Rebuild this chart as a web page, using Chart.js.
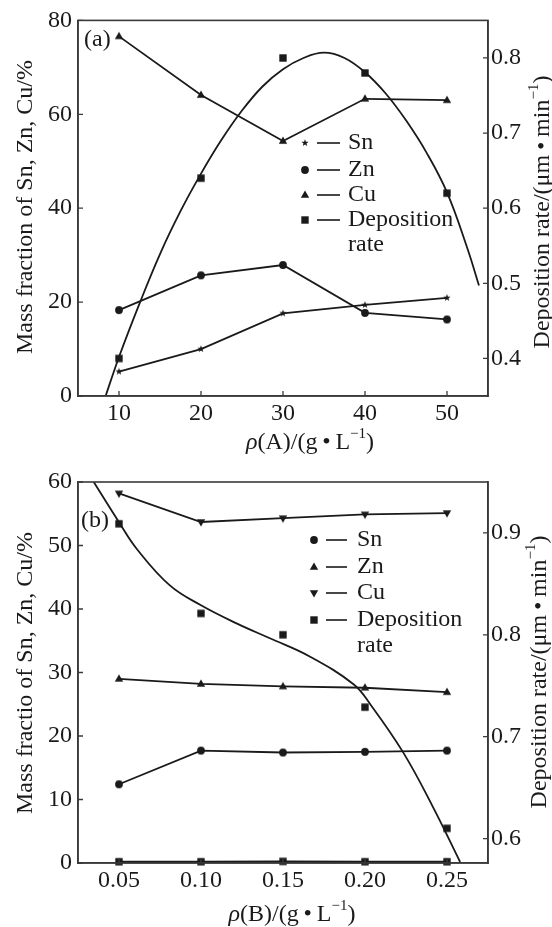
<!DOCTYPE html>
<html>
<head>
<meta charset="utf-8">
<script src="https://cdn.jsdelivr.net/npm/chart.js@4.4.1/dist/chart.umd.min.js"></script>
<style>
  html, body { margin: 0; padding: 0; background: #fff; }
  body { width: 552px; height: 927px; position: relative; overflow: hidden; font-family: 'Liberation Serif', serif; }
  .panel { position: absolute; left: 0; width: 552px; }
  #panel-a { top: 0; height: 460px; }
  #panel-b { top: 460px; height: 467px; }
</style>
</head>
<body>
<div class="panel" id="panel-a"><canvas id="chart-a" width="552" height="460"></canvas></div>
<div class="panel" id="panel-b"><canvas id="chart-b" width="552" height="467"></canvas></div>
<script>
// ---- panel (a): composition vs rho(A) ----
const X_A = [10, 20, 30, 40, 50];
const SN_A = [5.2, 10.0, 17.6, 19.4, 20.9];
const ZN_A = [18.3, 25.7, 27.9, 17.7, 16.3];
const CU_A = [76.6, 64.1, 54.3, 63.3, 63.0];
const RATE_A = [0.40, 0.64, 0.80, 0.78, 0.62];
// fitted deposition-rate curve
const FIT_A_X = [8.4, 10, 12.5, 15, 17.5, 20, 22.5, 25, 27.5, 30, 32.5, 35, 37.5, 40, 42.5, 45, 47.5, 50, 52.5, 53.9];
const FIT_A_Y = [0.351, 0.402, 0.473, 0.539, 0.596, 0.646, 0.691, 0.730, 0.762, 0.785, 0.800, 0.807, 0.800, 0.781, 0.753, 0.717, 0.674, 0.621, 0.546, 0.497];
const XTICKS_A = [10, 20, 30, 40, 50];
const YTICKS_A = [0, 20, 40, 60, 80];
const RTICKS_A = [0.4, 0.5, 0.6, 0.7, 0.8];
const LEGEND_A = [['star', 'Sn'], ['circle', 'Zn'], ['triUp', 'Cu'], ['square', 'Deposition', 'rate']];

// ---- panel (b): composition vs rho(B) ----
const X_B = [0.05, 0.10, 0.15, 0.20, 0.25];
const SN_B = [12.4, 17.7, 17.4, 17.5, 17.7];
const ZN_B = [29.0, 28.2, 27.8, 27.6, 26.9];
const CU_B = [58.2, 53.7, 54.3, 54.9, 55.1];
const RATE_B = [0.909, 0.821, 0.80, 0.729, 0.61];
const BASE_B = [0.2, 0.2, 0.25, 0.2, 0.2]; // the row of squares sitting on the zero line
const FIT_B_X = [0.0346, 0.05, 0.061, 0.081, 0.10, 0.122, 0.142, 0.166, 0.193, 0.203, 0.223, 0.241, 0.258];
const FIT_B_Y = [0.95, 0.9105, 0.884, 0.8485, 0.829, 0.811, 0.7966, 0.779, 0.7515, 0.7323, 0.6853, 0.6324, 0.577];
const XTICKS_B = [0.05, 0.10, 0.15, 0.20, 0.25];
const YTICKS_B = [0, 10, 20, 30, 40, 50, 60];
const RTICKS_B = [0.6, 0.7, 0.8, 0.9];
const LEGEND_B = [['circle', 'Sn'], ['triUp', 'Zn'], ['triDown', 'Cu'], ['square', 'Deposition', 'rate']];

const FONT = "'Liberation Serif', serif";
const INK = '#1a1a1a';
const FRAME = '#3a3a3a';
const THIN = '\u2009';

function markerPath(ctx, style, x, y) {
    ctx.beginPath();
    if (style == 'circle') {
        ctx.arc(x, y, 3.9, 0, Math.PI * 2);
    } else if (style == 'square') {
        ctx.rect(x - 3.7, y - 3.7, 7.4, 7.4);
    } else if (style == 'triUp') {
        ctx.moveTo(x, y - 4.6); ctx.lineTo(x + 4.2, y + 2.8); ctx.lineTo(x - 4.2, y + 2.8); ctx.closePath();
    } else if (style == 'triDown') {
        ctx.moveTo(x, y + 4.6); ctx.lineTo(x + 4.2, y - 2.8); ctx.lineTo(x - 4.2, y - 2.8); ctx.closePath();
    } else if (style == 'star') {
        for (let k = 0; k < 10; k++) {
            let r = k % 2 == 0 ? 3.8 : 1.6;
            let a = -Math.PI / 2 + k * Math.PI / 5;
            ctx.lineTo(x + r * Math.cos(a), y + r * Math.sin(a));
        }
        ctx.closePath();
    }
    ctx.fillStyle = INK;
    ctx.fill();
}

function markerImage(style) {
    let c = document.createElement('canvas');
    c.width = 12; c.height = 12;
    markerPath(c.getContext('2d'), style, 6, 6);
    return c;
}

function pts(xs, ys) {
    return xs.map((x, i) => ({x: x, y: ys[i]}));
}

// draws a row of text pieces (italic / superscript) centred on x
function richText(ctx, parts, x, y, size) {
    let fontOf = (p) => (p.i ? 'italic ' : '') + (p.sup ? Math.round(size * 0.62) : size) + 'px ' + FONT;
    let w = 0;
    for (let p of parts) { ctx.font = fontOf(p); w += ctx.measureText(p.t).width; }
    let cx = x - w / 2;
    ctx.textAlign = 'left';
    ctx.textBaseline = 'middle';
    for (let p of parts) {
        ctx.font = fontOf(p);
        ctx.fillText(p.t, cx, p.sup ? y - size * 0.36 : y);
        cx += ctx.measureText(p.t).width;
    }
}

const paperPlugin = {
    id: 'paper',
    afterDraw(chart, args, o) {
        const ctx = chart.ctx;
        const a = chart.chartArea;
        const s = chart.scales;
        ctx.save();

        // box round the plot
        ctx.strokeStyle = FRAME;
        ctx.lineWidth = 1.6;
        ctx.strokeRect(a.left, a.top, a.right - a.left, a.bottom - a.top);

        // short inward ticks
        ctx.lineWidth = 1.3;
        ctx.beginPath();
        for (let t of s.x.ticks) {
            let p = s.x.getPixelForValue(t.value);
            ctx.moveTo(p, a.bottom); ctx.lineTo(p, a.bottom - 5);
        }
        for (let t of s.y.ticks) {
            let p = s.y.getPixelForValue(t.value);
            ctx.moveTo(a.left, p); ctx.lineTo(a.left + 5, p);
        }
        for (let t of s.y2.ticks) {
            let p = s.y2.getPixelForValue(t.value);
            ctx.moveTo(a.right, p); ctx.lineTo(a.right - 5, p);
        }
        ctx.stroke();

        ctx.fillStyle = INK;

        // axis titles
        richText(ctx, o.xTitle, o.xTitleAt[0], o.xTitleAt[1], 24);
        for (let [parts, at] of [[o.yTitle, o.yTitleAt], [o.rTitle, o.rTitleAt]]) {
            ctx.save();
            ctx.translate(at[0], at[1]);
            ctx.rotate(-Math.PI / 2);
            richText(ctx, parts, 0, 0, 24);
            ctx.restore();
        }

        // panel tag
        ctx.font = '24px ' + FONT;
        ctx.textAlign = 'left';
        ctx.textBaseline = 'middle';
        ctx.fillText(o.tag, o.tagAt[0], o.tagAt[1]);

        // legend: marker, short dash, label
        let L = o.legend;
        for (let i = 0; i < L.items.length; i++) {
            let item = L.items[i];
            let y = L.rows[i];
            markerPath(ctx, item[0], L.marker, y);
            ctx.strokeStyle = INK;
            ctx.lineWidth = 1.6;
            ctx.beginPath();
            ctx.moveTo(L.line[0], y); ctx.lineTo(L.line[1], y);
            ctx.stroke();
            ctx.font = '24px ' + FONT;
            ctx.textAlign = 'left';
            ctx.fillText(item[1], L.text, y);
            if (item[2]) ctx.fillText(item[2], L.text, L.rows[i + 1]);
        }
        ctx.restore();
    }
};

function axis(pos, min, max, tickValues, size, fmt, pad) {
    return {
        type: 'linear',
        position: pos,
        min: min,
        max: max,
        grid: {display: false, drawTicks: false},
        border: {display: true, color: FRAME, width: 1.6},
        afterBuildTicks: (sc) => { sc.ticks = tickValues.map(v => ({value: v})); },
        afterFit: (sc) => {
            if (pos == 'bottom') sc.height = size; else sc.width = size;
        },
        ticks: {
            autoSkip: false,
            maxRotation: 0,
            padding: pad,
            color: INK,
            font: {family: FONT, size: 24},
            callback: fmt
        }
    };
}

function lineSet(data, style, yAxis) {
    return {
        data: data,
        yAxisID: yAxis,
        borderColor: INK,
        borderWidth: 1.8,
        pointStyle: markerImage(style),
        pointRadius: 5,
        tension: 0,
        fill: false
    };
}

function fitSet(data) {
    return {
        data: data,
        yAxisID: 'y2',
        borderColor: INK,
        borderWidth: 1.8,
        pointRadius: 0,
        tension: 0.4,
        fill: false
    };
}

function dotSet(data, style, yAxis) {
    return {
        data: data,
        yAxisID: yAxis,
        showLine: false,
        pointStyle: markerImage(style),
        pointRadius: 5
    };
}

function makeChart(canvas, cfg) {
    return new Chart(canvas, {
        type: 'line',
        data: {datasets: cfg.datasets},
        options: {
            responsive: false,
            animation: false,
            events: [],
            layout: {padding: {top: cfg.top, left: 0, right: 0, bottom: 0}},
            scales: {
                x: axis('bottom', cfg.x[0], cfg.x[1], cfg.xTicks, cfg.xSize, cfg.xFmt, 3),
                y: axis('left', cfg.y[0], cfg.y[1], cfg.yTicks, 78, v => v, 6),
                y2: axis('right', cfg.r[0], cfg.r[1], cfg.rTicks, 64, v => v.toFixed(1), 3)
            },
            plugins: {
                legend: {display: false},
                tooltip: {enabled: false},
                paper: cfg.paper
            }
        },
        plugins: [paperPlugin]
    });
}

function rateTitle() {
    return [{t: 'Deposition rate/(μm' + THIN + '•' + THIN + 'min'}, {t: '−1', sup: true}, {t: ')'}];
}

function drawAll() {
    makeChart(document.getElementById('chart-a'), {
        top: 19,
        x: [5, 55], y: [0, 80], r: [0.35, 0.85],
        xTicks: XTICKS_A, yTicks: YTICKS_A, rTicks: RTICKS_A,
        xSize: 64, xFmt: v => v,
        datasets: [
            lineSet(pts(X_A, SN_A), 'star', 'y'),
            lineSet(pts(X_A, ZN_A), 'circle', 'y'),
            lineSet(pts(X_A, CU_A), 'triUp', 'y'),
            dotSet(pts(X_A, RATE_A), 'square', 'y2'),
            fitSet(pts(FIT_A_X, FIT_A_Y))
        ],
        paper: {
            tag: '(a)', tagAt: [84, 40],
            xTitle: [{t: 'ρ', i: true}, {t: '(A)/(g' + THIN + '•' + THIN + 'L'}, {t: '−1', sup: true}, {t: ')'}],
            xTitleAt: [310, 443],
            yTitle: [{t: 'Mass fraction of Sn, Zn, Cu/%'}],
            yTitleAt: [26, 207],
            rTitle: rateTitle(),
            rTitleAt: [543, 212],
            legend: {items: LEGEND_A, marker: 305, line: [317, 340], text: 348, rows: [143, 170, 195, 220, 245]}
        }
    });

    makeChart(document.getElementById('chart-b'), {
        top: 22,
        x: [0.025, 0.275], y: [0, 60], r: [0.576, 0.95],
        xTicks: XTICKS_B, yTicks: YTICKS_B, rTicks: RTICKS_B,
        xSize: 64, xFmt: v => v.toFixed(2),
        datasets: [
            lineSet(pts(X_B, SN_B), 'circle', 'y'),
            lineSet(pts(X_B, ZN_B), 'triUp', 'y'),
            lineSet(pts(X_B, CU_B), 'triDown', 'y'),
            Object.assign(lineSet(pts(X_B, BASE_B), 'square', 'y'), {clip: false}),
            dotSet(pts(X_B, RATE_B), 'square', 'y2'),
            fitSet(pts(FIT_B_X, FIT_B_Y))
        ],
        paper: {
            tag: '(b)', tagAt: [81, 61],
            xTitle: [{t: 'ρ', i: true}, {t: '(B)/(g' + THIN + '•' + THIN + 'L'}, {t: '−1', sup: true}, {t: ')'}],
            xTitleAt: [292, 455],
            yTitle: [{t: 'Mass fractio of Sn, Zn, Cu/%'}],
            yTitleAt: [26, 213],
            rTitle: rateTitle(),
            rTitleAt: [540, 212],
            legend: {items: LEGEND_B, marker: 314, line: [326, 347], text: 357, rows: [80, 107, 133, 160, 186]}
        }
    });
}

// make sure the serif face is ready before the canvases paint text
Promise.all([
    document.fonts.load("24px 'Liberation Serif'"),
    document.fonts.load("italic 24px 'Liberation Serif'")
]).catch(() => {}).then(drawAll);
</script>
</body>
</html>
